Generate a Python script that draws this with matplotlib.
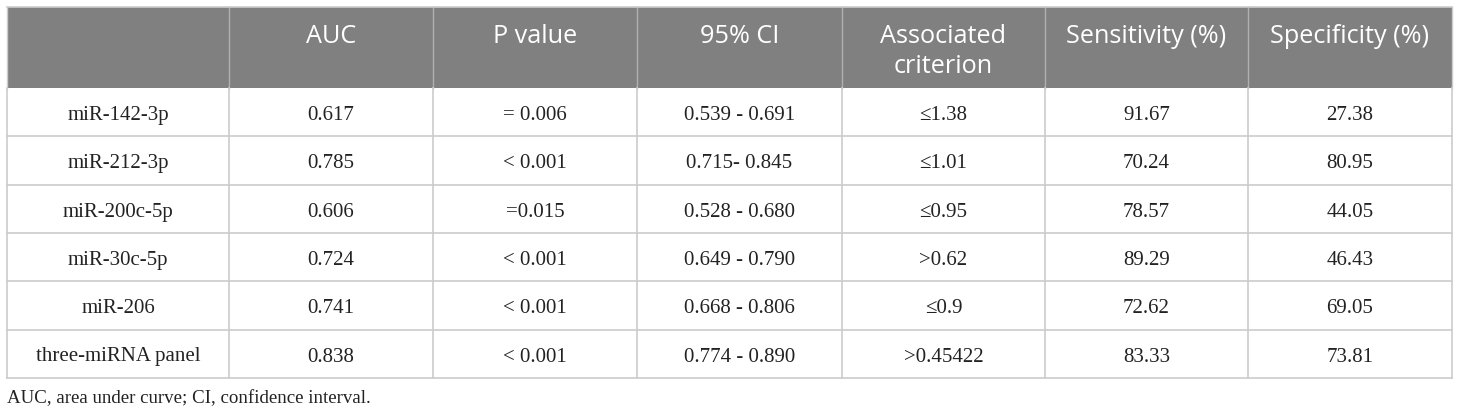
import matplotlib.pyplot as plt
from matplotlib.patches import Rectangle

# table contents
headers = ['', 'AUC', 'P value', '95% CI', 'Associated\ncriterion',
           'Sensitivity (%)', 'Specificity (%)']
mirnas = ['miR-142-3p', 'miR-212-3p', 'miR-200c-5p', 'miR-30c-5p',
          'miR-206', 'three-miRNA panel']
auc = ['0.617', '0.785', '0.606', '0.724', '0.741', '0.838']
p_value = ['= 0.006', '< 0.001', '=0.015', '< 0.001', '< 0.001', '< 0.001']
ci95 = ['0.539 - 0.691', '0.715- 0.845', '0.528 - 0.680', '0.649 - 0.790',
        '0.668 - 0.806', '0.774 - 0.890']
criterion = ['≤1.38', '≤1.01', '≤0.95', '>0.62', '≤0.9', '>0.45422']
sensitivity = ['91.67', '70.24', '78.57', '89.29', '72.62', '83.33']
specificity = ['27.38', '80.95', '44.05', '46.43', '69.05', '73.81']
footnote = 'AUC, area under curve; CI, confidence interval.'

# layout in pixels
col_x = [7, 229, 433, 637, 842, 1045, 1248, 1452]
top, head_bot = 7, 88
row_h = 48.3

W, H = 1460, 413
fig = plt.figure(figsize=(W / 100, H / 100), dpi=100)
ax = fig.add_axes([0, 0, 1, 1])
ax.set_xlim(0, W)
ax.set_ylim(H, 0)
ax.axis('off')

line_c = '#cccccc'
head_c = '#7f807f'

# header
ax.add_patch(Rectangle((col_x[0], top), col_x[-1] - col_x[0], head_bot - top,
                       facecolor=head_c, edgecolor='none'))
for i, h in enumerate(headers):
    cx = (col_x[i] + col_x[i + 1]) / 2
    for k, line in enumerate(h.split('\n')):
        ax.text(cx, 43 + k * 30, line, ha='center', va='baseline',
                color='white', fontsize=18.2, family='Open Sans')

# body rows
columns = [mirnas, auc, p_value, ci95, criterion, sensitivity, specificity]
n = len(mirnas)
bottom = head_bot + n * row_h
for r in range(n):
    by = head_bot + r * row_h + 32
    for c, col in enumerate(columns):
        cx = (col_x[c] + col_x[c + 1]) / 2
        ax.text(cx, by, col[r], ha='center', va='baseline', color='#222222',
                fontsize=15, family='Liberation Serif')

# grid lines
for r in range(1, n):
    y = head_bot + r * row_h
    ax.plot([col_x[0], col_x[-1]], [y, y], color=line_c, lw=1.2)
for i, x in enumerate(col_x):
    ax.plot([x, x], [top, head_bot], color='#b0b0b0' if 0 < i < 7 else line_c, lw=1.0)
    ax.plot([x, x], [head_bot, bottom], color=line_c, lw=1.2)
ax.plot([col_x[0], col_x[-1]], [top, top], color=line_c, lw=1.2)
ax.plot([col_x[0], col_x[-1]], [bottom, bottom], color=line_c, lw=1.2)

ax.text(col_x[0], 403, footnote, ha='left', va='baseline', color='#222222',
        fontsize=13.6, family='Liberation Serif')

fig.savefig('out.png', dpi=100)
